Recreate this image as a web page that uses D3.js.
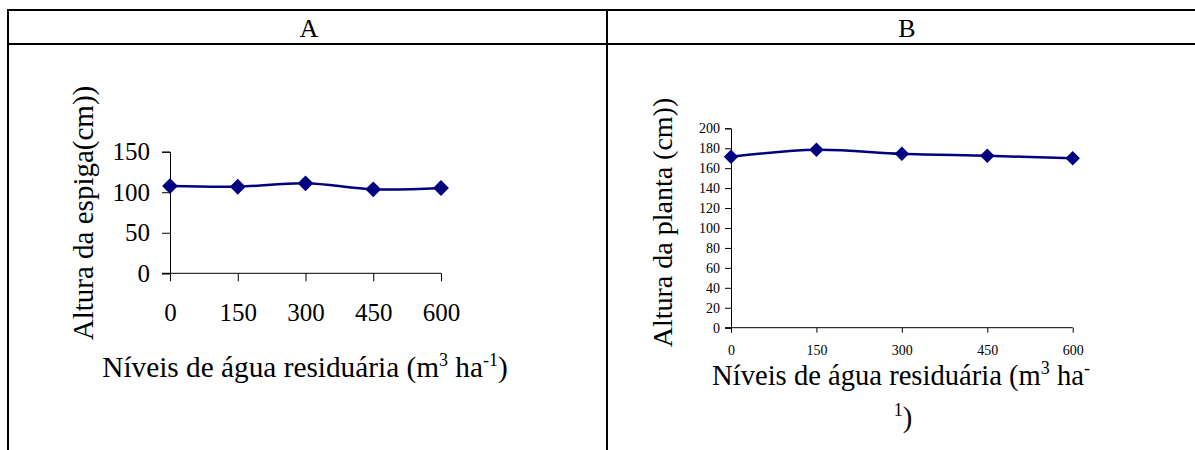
<!DOCTYPE html>
<html>
<head>
<meta charset="utf-8">
<script src="https://cdn.jsdelivr.net/npm/d3@7"></script>
<style>
  html, body { margin: 0; padding: 0; background: #fff; }
  svg { display: block; }
</style>
</head>
<body>
<svg id="chart" width="1195" height="450"></svg>
<script>
// ---- data ----
const levels = [0, 150, 300, 450, 600];
const xTickLabels = ["0", "150", "300", "450", "600"];
const espiga = [107.6, 106.8, 111.0, 103.6, 105.2];
const planta = [171.5, 178.4, 174.4, 172.4, 170.0];
const yTicksA = [0, 50, 100, 150];
const yTicksB = [0, 20, 40, 60, 80, 100, 120, 140, 160, 180, 200];
const panelLabels = ["A", "B"];
const yTitleA = "Altura da espiga(cm))";
const yTitleB = "Altura da planta (cm))";

const FONT = '"Liberation Serif", "Times New Roman", Times, serif';
const svg = d3.select("#chart");
const navy = "#000080";

// ---- table frame ----
const frame = svg.append("g").attr("stroke", "#000").attr("stroke-width", 2);
frame.append("line").attr("x1", 7).attr("x2", 1195).attr("y1", 10).attr("y2", 10);
frame.append("line").attr("x1", 7).attr("x2", 1195).attr("y1", 44).attr("y2", 44);
frame.append("line").attr("x1", 8).attr("x2", 8).attr("y1", 9).attr("y2", 450);
frame.append("line").attr("x1", 607).attr("x2", 607).attr("y1", 9).attr("y2", 450);

svg.selectAll("text.panel").data(panelLabels).enter().append("text")
  .attr("class", "panel")
  .attr("x", (d, i) => i === 0 ? 309 : 907)
  .attr("y", 37)
  .attr("text-anchor", "middle")
  .style("font-family", FONT)
  .style("font-size", "26px")
  .attr("fill", "#000")
  .text(d => d);

const marker = d3.symbol().type(d3.symbolSquare);

function drawPanel(cfg) {
  const x = d3.scaleLinear().domain([0, 600]).range(cfg.xRange);
  const y = d3.scaleLinear().domain(cfg.yDomain).range(cfg.yRange);
  const g = svg.append("g");

  // y axis
  const ya = g.append("g").attr("transform", `translate(${x(0)},0)`)
    .call(d3.axisLeft(y).tickValues(cfg.yTicks).tickSizeOuter(0)
      .tickSize(cfg.yTick).tickPadding(cfg.yPad));
  ya.attr("font-family", null);
  ya.select(".domain").attr("stroke", "#000");
  ya.selectAll(".tick line").attr("stroke", "#000");
  ya.selectAll(".tick text").style("font-size", cfg.tickFont + "px")
    .style("font-family", FONT).attr("fill", "#000");

  // x axis
  const xa = g.append("g").attr("transform", `translate(0,${y(0)})`)
    .call(d3.axisBottom(x).tickValues(levels).tickFormat((d, i) => xTickLabels[i])
      .tickSizeOuter(0).tickSize(cfg.xTick).tickPadding(cfg.xPad));
  xa.attr("font-family", null);
  xa.select(".domain").remove();
  xa.append("line").attr("x1", x(0) - cfg.yTick).attr("x2", x(600))
    .attr("y1", 0).attr("y2", 0).attr("stroke", "#000");
  xa.selectAll(".tick line").attr("stroke", "#000");
  xa.selectAll(".tick text").style("font-size", cfg.tickFont + "px")
    .style("font-family", FONT).attr("fill", "#000");

  // line
  const pts = levels.map((l, i) => [x(l), y(cfg.values[i])]);
  g.append("path").datum(pts)
    .attr("d", d3.line().curve(d3.curveCatmullRom.alpha(0.5)))
    .attr("fill", "none").attr("stroke", navy).attr("stroke-width", 2.5);
  g.selectAll("path.mk").data(pts).enter().append("path")
    .attr("class", "mk")
    .attr("transform", d => `translate(${d[0]},${d[1]}) rotate(45)`)
    .attr("d", marker.size(cfg.markerSize)())
    .attr("fill", navy);

  // y title
  g.append("text")
    .attr("transform", `translate(${cfg.yTitleX},${cfg.yTitleY}) rotate(-90)`)
    .attr("text-anchor", "middle")
    .style("font-family", FONT)
    .style("font-size", cfg.yTitleFont + "px")
    .attr("fill", "#000")
    .text(cfg.yTitle);

  return g;
}

drawPanel({
  xRange: [170, 441], yDomain: [0, 150], yRange: [273.3, 151.7],
  yTicks: yTicksA, values: espiga, yTick: 8, yPad: 12, xTick: 8, xPad: 22,
  tickFont: 25, markerSize: 125, yTitle: yTitleA, yTitleX: 93, yTitleY: 213,
  yTitleFont: 29
});

drawPanel({
  xRange: [731, 1072.7], yDomain: [0, 200], yRange: [327.7, 128.3],
  yTicks: yTicksB, values: planta, yTick: 6, yPad: 5, xTick: 5, xPad: 12,
  tickFont: 14, markerSize: 105, yTitle: yTitleB, yTitleX: 672, yTitleY: 222.5,
  yTitleFont: 28
});

// x titles
function titleText(xc, yb, fs) {
  return svg.append("text").attr("x", xc).attr("y", yb)
    .attr("text-anchor", "middle")
    .style("font-family", FONT).style("font-size", fs + "px").attr("fill", "#000");
}
const tA = titleText(305, 377, 29.3);
tA.append("tspan").text("Níveis de água residuária (m");
tA.append("tspan").attr("dy", -11).style("font-size", "18px").text("3");
tA.append("tspan").attr("dy", 11).text(" ha");
tA.append("tspan").attr("dy", -11).style("font-size", "18px").text("-1");
tA.append("tspan").attr("dy", 11).text(")");

const tB = titleText(901, 385, 28.6);
tB.append("tspan").text("Níveis de água residuária (m");
tB.append("tspan").attr("dy", -11).style("font-size", "18px").text("3");
tB.append("tspan").attr("dy", 11).text(" ha");
tB.append("tspan").attr("dy", -11).style("font-size", "18px").text("-");

const tB2 = titleText(903, 427, 28.6);
tB2.append("tspan").attr("dy", -11).style("font-size", "18px").text("1");
tB2.append("tspan").attr("dy", 11).text(")");
</script>
</body>
</html>
